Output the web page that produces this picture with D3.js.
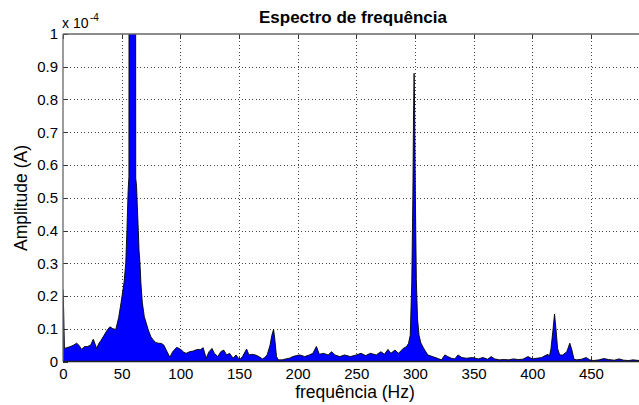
<!DOCTYPE html>
<html><head><meta charset="utf-8">
<script src="https://cdn.jsdelivr.net/npm/d3@7"></script>
<style>
body{margin:0;background:#fff}
svg text{font-family:"Liberation Sans",Arial,Helvetica,sans-serif;fill:#000}
</style>
</head><body>
<svg id="c" width="639" height="405"></svg>
<script>
// Frequencies (Hz) and amplitudes (x 1e-4 A)
const freq = [0,0.6,1.2,3,6,9,11.6,13.5,15.9,18,21,23.5,25.8,27.2,28.7,30.5,32.5,35,37.5,40,42.5,45,47.5,49.5,52,53.5,54.5,55.5,56.2,56.6,58,59.5,61,61.6,62.0,62.7,63.6,64.2,64.8,65.6,66.4,67.6,69.3,72.7,75,76.9,79,81.2,84,86,88,91.1,93.5,96.8,99,101,103,105,108,111,113,115,117,119.5,122,124.5,127,129,132,134.5,137,139.5,142,145,147.5,149.5,151,153,156.5,158.5,161,164,167,170,172,174,176.5,178,179.5,180.5,182,183.5,187,190,193,196,199,202,206,210,213,216,218.5,222,226,229,231.7,236,240,245,250,254,258,262,267,271,274,277,279.5,283,286,290,292.7,294.5,296,297.3,298.2,298.8,299.3,299.8,300.4,301.2,302.2,303.5,305,307.5,311,315,319,322.6,325.5,328,331,334,336.7,340,344,349,354,358,362,365,368,372,376,380,384,388,392,396.4,400,404,408,411,413.4,414.6,416,417.5,419,420.2,421.6,423.4,426,429.5,432,433.8,435.6,438,442,446,449,452,457,461,465,470,474,478,482,486,491];
const amp = [0.22,0.15,0.04,0.042,0.045,0.05,0.056,0.05,0.037,0.045,0.046,0.05,0.068,0.055,0.04,0.055,0.065,0.08,0.095,0.106,0.1,0.098,0.135,0.18,0.24,0.30,0.40,0.52,0.565,3.5,5,6,5,3.5,0.56,0.535,0.45,0.40,0.34,0.30,0.24,0.18,0.137,0.096,0.075,0.066,0.058,0.056,0.055,0.05,0.035,0.013,0.03,0.043,0.04,0.035,0.028,0.025,0.03,0.032,0.035,0.037,0.036,0.042,0.01,0.03,0.04,0.025,0.015,0.03,0.035,0.02,0.025,0.010,0.02,0.01,0.007,0.015,0.038,0.02,0.022,0.02,0.015,0.008,0.012,0.02,0.05,0.08,0.098,0.07,0.015,0.005,0.005,0.008,0.01,0.015,0.018,0.02,0.015,0.02,0.025,0.046,0.022,0.025,0.02,0.03,0.02,0.015,0.02,0.015,0.02,0.025,0.018,0.025,0.02,0.03,0.022,0.037,0.025,0.035,0.025,0.04,0.045,0.055,0.08,0.24,0.49,0.75,0.88,0.75,0.49,0.25,0.13,0.08,0.057,0.04,0.02,0.015,0.01,0.005,0.02,0.015,0.01,0.008,0.02,0.012,0.01,0.012,0.008,0.012,0.007,0.015,0.008,0.005,0.006,0.005,0.008,0.006,0.007,0.015,0.008,0.01,0.012,0.018,0.022,0.015,0.04,0.09,0.145,0.1,0.04,0.02,0.02,0.03,0.056,0.035,0.007,0.005,0.007,0.012,0.005,0.003,0.005,0.009,0.006,0.004,0.008,0.004,0.003,0.005,0.003];
const xTicks = [0,50,100,150,200,250,300,350,400,450];
const yTicks = [0,0.1,0.2,0.3,0.4,0.5,0.6,0.7,0.8,0.9,1];
const yTickLabels = ["0","0.1","0.2","0.3","0.4","0.5","0.6","0.7","0.8","0.9","1"];
const titleText = "Espectro de frequência";
const xLabel = "frequência (Hz)";
const yLabel = "Amplitude (A)";

const L = 63, R = 639, T = 34, B = 361.5;
const svg = d3.select("#c");
const x = d3.scaleLinear().domain([0, 491]).range([L, R]);
const y = d3.scaleLinear().domain([0, 1]).range([B, T]);

svg.append("rect").attr("width", 639).attr("height", 405).attr("fill", "#fff");

// grid
const grid = svg.append("g").attr("stroke", "#444").attr("stroke-width", 1)
  .attr("stroke-dasharray", "1 2.5").attr("shape-rendering", "crispEdges");
grid.selectAll(".vx").data(xTicks.filter(d => d > 0)).join("line")
  .attr("x1", d => Math.round(x(d)) + 0.5).attr("x2", d => Math.round(x(d)) + 0.5)
  .attr("y1", T).attr("y2", B);
grid.selectAll(".hy").data(yTicks.filter(d => d > 0 && d < 1)).join("line")
  .attr("y1", d => Math.round(y(d)) + 0.5).attr("y2", d => Math.round(y(d)) + 0.5)
  .attr("x1", L).attr("x2", R);

// inward tick marks
const tk = svg.append("g").attr("stroke", "#333").attr("stroke-width", 1).attr("shape-rendering", "crispEdges");
tk.selectAll(".tt").data(xTicks).join("line")
  .attr("x1", d => Math.round(x(d)) + 0.5).attr("x2", d => Math.round(x(d)) + 0.5)
  .attr("y1", T).attr("y2", T + 5);
tk.selectAll(".tb").data(xTicks).join("line")
  .attr("x1", d => Math.round(x(d)) + 0.5).attr("x2", d => Math.round(x(d)) + 0.5)
  .attr("y1", B).attr("y2", B - 5);
tk.selectAll(".tl").data(yTicks).join("line")
  .attr("y1", d => Math.round(y(d)) + 0.5).attr("y2", d => Math.round(y(d)) + 0.5)
  .attr("x1", L).attr("x2", L + 5);

// data area
svg.append("clipPath").attr("id", "clip").append("rect")
  .attr("x", L).attr("y", T).attr("width", R - L).attr("height", B - T);
const pts = freq.map((f, i) => [f, amp[i]]);
const area = d3.area().x(d => x(d[0])).y0(y(0)).y1(d => y(d[1]));
const line = d3.line().x(d => x(d[0])).y(d => y(d[1]));
const dg = svg.append("g").attr("clip-path", "url(#clip)");
dg.append("path").datum(pts).attr("d", area).attr("fill", "#0000ff");
dg.append("path").datum(pts).attr("d", line).attr("fill", "none")
  .attr("stroke", "#000").attr("stroke-width", 0.9);

// axes box lines
const ax = svg.append("g").attr("stroke", "#666").attr("stroke-width", 1.3).attr("fill", "none");
ax.append("line").attr("x1", L).attr("x2", R).attr("y1", T).attr("y2", T);
ax.append("line").attr("x1", L).attr("x2", L).attr("y1", T).attr("y2", B);
ax.append("line").attr("x1", L).attr("x2", R).attr("y1", B).attr("y2", B).attr("stroke", "#222");

// tick labels via d3 axes
const xAxis = d3.axisBottom(x).tickValues(xTicks).tickSize(0).tickPadding(7).tickFormat(d3.format("d"));
const gx = svg.append("g").attr("transform", `translate(0,${B})`).call(xAxis);
gx.select(".domain").remove();
gx.selectAll("text").attr("font-size", 15).attr("fill", "#111");

const yAxis = d3.axisLeft(y).tickValues(yTicks).tickSize(0).tickPadding(5)
  .tickFormat((d, i) => yTickLabels[i]);
const gy = svg.append("g").attr("transform", `translate(${L},0)`).call(yAxis);
gy.select(".domain").remove();
gy.selectAll("text").attr("font-size", 15).attr("fill", "#111");

// exponent
svg.append("text").attr("x", 62).attr("y", 28).attr("font-size", 14).attr("fill", "#111").text("x 10");
svg.append("text").attr("x", 90).attr("y", 21).attr("font-size", 10).attr("fill", "#111").text("-4");

// title & labels
svg.append("text").attr("x", 353).attr("y", 23).attr("text-anchor", "middle")
  .attr("font-size", 17).attr("font-weight", "bold").text(titleText);
svg.append("text").attr("x", 355).attr("y", 398).attr("text-anchor", "middle")
  .attr("font-size", 17.5).text(xLabel);
svg.append("text").attr("transform", "translate(27,198) rotate(-90)").attr("text-anchor", "middle")
  .attr("font-size", 17.5).text(yLabel);
</script>
</body></html>
